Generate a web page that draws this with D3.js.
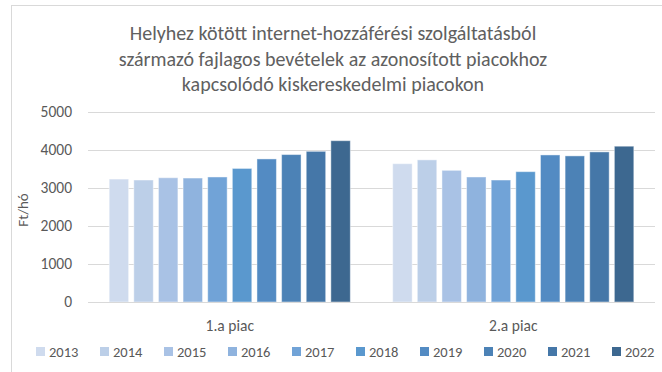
<!DOCTYPE html>
<html>
<head>
<meta charset="utf-8">
<script src="https://cdn.jsdelivr.net/npm/d3@7"></script>
<style>
  html, body { margin: 0; padding: 0; background: #fff; overflow: hidden; }
  svg { display: block; }
  text { font-family: Carlito, Calibri, Lato, sans-serif; fill: #595959; }
</style>
</head>
<body>
<svg id="chart" width="662" height="372"></svg>
<script>
// Chart data
const titleLines = [
  "Helyhez kötött internet-hozzáférési szolgáltatásból",
  "származó fajlagos bevételek az azonosított piacokhoz",
  "kapcsolódó kiskereskedelmi piacokon"
];
const yAxisTitle = "Ft/hó";
const markets = ["1.a piac", "2.a piac"];
const years = ["2013", "2014", "2015", "2016", "2017", "2018", "2019", "2020", "2021", "2022"];
const market1Values = [3235, 3210, 3270, 3262, 3290, 3515, 3765, 3880, 3965, 4245];
const market2Values = [3640, 3740, 3465, 3290, 3210, 3430, 3870, 3845, 3950, 4100];
const yTicks = [0, 1000, 2000, 3000, 4000, 5000];
const yearColors = ["#CFDBEE", "#BCCFE8", "#A9C2E5", "#8FB3DE", "#71A3D7",
                    "#5A98CE", "#538BC3", "#4C82B6", "#4577A8", "#3D6890"];

const seriesByMarket = [market1Values, market2Values];
const labelFont = "Carlito, Calibri, Lato, sans-serif";

const svg = d3.select("#chart");

// Outer chart frame
svg.append("rect")
  .attr("x", 11.5).attr("y", 5.5)
  .attr("width", 720).attr("height", 420)
  .attr("fill", "none").attr("stroke", "#D9D9D9").attr("stroke-width", 1);

// Title
const title = svg.append("text")
  .attr("text-anchor", "middle")
  .style("font-size", "20px")
  .style("fill", "#606060");
titleLines.forEach((line, i) => {
  title.append("tspan").attr("x", 333).attr("y", 40 + i * 25.6).text(line);
});

// Scales
const plot = { left: 88, right: 655, top: 112, bottom: 302 };
const y = d3.scaleLinear().domain([0, 5000]).range([plot.bottom, plot.top]);
const x0 = d3.scaleBand().domain(markets).range([plot.left, plot.right]).padding(0);
const x1 = d3.scaleBand().domain(years).range([0, x0.bandwidth()])
  .paddingInner(0.21).paddingOuter(0.86);
const color = d3.scaleOrdinal().domain(years).range(yearColors);

// Gridlines
svg.append("g")
  .selectAll("line")
  .data(yTicks)
  .join("line")
  .attr("x1", plot.left).attr("x2", plot.right)
  .attr("y1", d => Math.round(y(d)) + 0.5).attr("y2", d => Math.round(y(d)) + 0.5)
  .attr("stroke", "#D9D9D9").attr("stroke-width", 1);

// Y axis labels
const yAxis = d3.axisLeft(y).tickValues(yTicks).tickSize(0).tickPadding(0).tickFormat(d3.format("d"));
const yAxisG = svg.append("g")
  .attr("transform", `translate(72,0)`)
  .call(yAxis);
yAxisG.select(".domain").remove();
yAxisG.selectAll("text")
  .style("font-size", "15.5px")
  .attr("fill", "#595959")
  .style("font-family", labelFont);

// Y axis title
svg.append("text")
  .attr("transform", `translate(28,210) rotate(-90)`)
  .attr("text-anchor", "middle")
  .style("font-size", "15px")
  .text(yAxisTitle);

// Bars
const groups = svg.append("g")
  .selectAll("g")
  .data(markets.map((m, i) => ({ market: m, values: seriesByMarket[i] })))
  .join("g")
  .attr("transform", d => `translate(${x0(d.market)},0)`);

groups.selectAll("rect")
  .data(d => d.values.map((v, j) => ({ year: years[j], value: v })))
  .join("rect")
  .attr("x", d => x1(d.year))
  .attr("y", d => y(d.value))
  .attr("width", x1.bandwidth())
  .attr("height", d => y(0) - y(d.value))
  .attr("fill", d => color(d.year))
  .attr("stroke", "#ffffff")
  .attr("stroke-opacity", 0.45)
  .attr("stroke-width", 1);

// Baseline axis
const xAxis = d3.axisBottom(x0).tickSize(0).tickPadding(0);
const xAxisG = svg.append("g")
  .attr("transform", `translate(0,${plot.bottom})`)
  .call(xAxis);
xAxisG.select(".domain").attr("stroke", "#D9D9D9").attr("d", `M${plot.left},0.5H${plot.right}`);
xAxisG.selectAll("text")
  .attr("y", 29)
  .attr("dy", 0)
  .style("font-size", "15.5px")
  .attr("fill", "#595959")
  .style("font-family", labelFont);

// Legend
const legend = svg.append("g")
  .selectAll("g")
  .data(years)
  .join("g")
  .attr("transform", (d, i) => `translate(${36 + i * 64},0)`);
legend.append("rect")
  .attr("x", 0).attr("y", 347)
  .attr("width", 9).attr("height", 9)
  .attr("fill", d => color(d));
legend.append("text")
  .attr("x", 13).attr("y", 357)
  .style("font-size", "14.5px")
  .text(d => d);
</script>
</body>
</html>
